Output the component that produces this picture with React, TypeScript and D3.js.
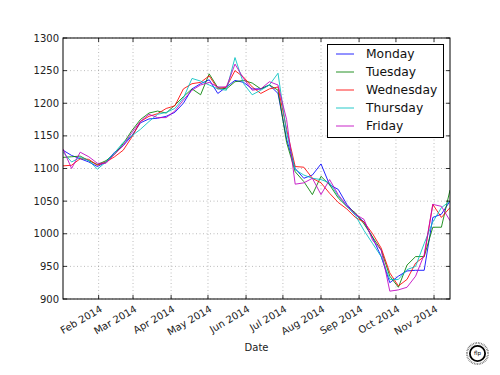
import React from "react";
import * as d3 from "d3";

const seriesNames = ["Monday", "Tuesday", "Wednesday", "Thursday", "Friday"];
const seriesColors = ["#0000ff", "#008000", "#ff0000", "#00bfbf", "#bf00bf"];

const startDate = "2014-01-03";

const monday = [1128, 1120, 1115, 1110, 1103, 1110, 1125, 1135, 1150, 1170, 1176, 1177, 1180, 1186, 1200, 1222, 1230, 1236, 1215, 1225, 1235, 1232, 1222, 1222, 1228, 1215, 1145, 1100, 1085, 1090, 1107, 1075, 1068, 1045, 1030, 1018, 994, 965, 925, 935, 943, 944, 944, 1025, 1030, 1050];
const tuesday = [1117, 1118, 1119, 1112, 1106, 1112, 1122, 1138, 1158, 1175, 1185, 1188, 1185, 1197, 1210, 1222, 1213, 1245, 1224, 1222, 1233, 1235, 1231, 1222, 1228, 1220, 1140, 1095, 1080, 1060, 1088, 1075, 1055, 1042, 1032, 1015, 995, 975, 935, 918, 952, 965, 965, 1010, 1010, 1067];
const wednesday = [1104, 1105, 1115, 1114, 1105, 1110, 1118, 1128, 1148, 1172, 1180, 1184, 1192, 1196, 1222, 1230, 1232, 1242, 1222, 1225, 1250, 1240, 1225, 1215, 1222, 1225, 1160, 1103, 1102, 1085, 1078, 1062, 1048, 1038, 1025, 1018, 1000, 978, 940, 920, 930, 955, 965, 1045, 1025, 1040];
const thursday = [1125, 1110, 1117, 1112, 1099, 1110, 1124, 1140, 1150, 1160, 1172, 1183, 1186, 1192, 1208, 1238, 1234, 1228, 1222, 1220, 1270, 1230, 1213, 1220, 1228, 1246, 1155, 1098, 1090, 1085, 1083, 1078, 1058, 1042, 1028, 1005, 985, 965, 930, 930, 945, 950, 985, 1018, 1040, 1050];
const friday = [1130, 1100, 1125, 1118, 1108, 1108, 1122, 1135, 1155, 1172, 1183, 1178, 1178, 1188, 1205, 1220, 1228, 1232, 1225, 1225, 1260, 1238, 1220, 1222, 1233, 1228, 1175, 1076, 1078, 1085, 1060, 1083, 1060, 1043, 1030, 1022, 990, 975, 912, 914, 918, 935, 968, 1045, 1042, 1020];

const seriesValues = [monday, tuesday, wednesday, thursday, friday];

const yTicks = [900, 950, 1000, 1050, 1100, 1150, 1200, 1250, 1300];
const xTickMonths = ["2014-02-01", "2014-03-01", "2014-04-01", "2014-05-01", "2014-06-01", "2014-07-01", "2014-08-01", "2014-09-01", "2014-10-01", "2014-11-01"];

const W = 500;
const H = 375;
const left = 63;
const right = 450;
const top = 38;
const bottom = 299;
const FONT = "DejaVu Sans, sans-serif";

function parse(s: string) {
  const [y, m, d] = s.split("-").map(Number);
  return new Date(y, m - 1, d);
}

export default function App() {
  const d0 = parse(startDate);
  const dates = monday.map((_, i) => new Date(d0.getFullYear(), d0.getMonth(), d0.getDate() + 7 * i));
  const x = d3.scaleTime().domain(d3.extent(dates) as [Date, Date]).range([left, right]);
  const y = d3.scaleLinear().domain([900, 1300]).range([bottom, top]);
  const line = d3
    .line<number>()
    .x((_, i) => x(dates[i]))
    .y((v) => y(v));
  const fmt = d3.timeFormat("%b %Y");
  const xTicks = xTickMonths.map(parse);

  return (
    <svg width={W} height={H} style={{ position: "absolute", left: 0, top: 0, background: "#fff" }} fontFamily={FONT}>
      <rect x={0} y={0} width={W} height={H} fill="#fff" />
      <defs>
        <clipPath id="clip">
          <rect x={left} y={top} width={right - left} height={bottom - top} />
        </clipPath>
      </defs>
      {/* grid */}
      {yTicks.map((t) => (
        <line key={"gy" + t} x1={left} x2={right} y1={y(t)} y2={y(t)} stroke="#000" strokeOpacity={0.45} strokeWidth={0.6} strokeDasharray="1,2.5" />
      ))}
      {xTicks.map((t, i) => (
        <line key={"gx" + i} x1={x(t)} x2={x(t)} y1={top} y2={bottom} stroke="#000" strokeOpacity={0.45} strokeWidth={0.6} strokeDasharray="1,2.5" />
      ))}
      {/* series */}
      <g clipPath="url(#clip)">
        {seriesValues.map((vals, k) => (
          <path key={seriesNames[k]} d={line(vals) || ""} fill="none" stroke={seriesColors[k]} strokeWidth={1} strokeOpacity={0.85} />
        ))}
      </g>
      {/* ticks */}
      {yTicks.map((t) => (
        <g key={"ty" + t}>
          <line x1={left} x2={left + 4} y1={y(t)} y2={y(t)} stroke="#000" strokeWidth={0.8} />
          <line x1={right} x2={right - 4} y1={y(t)} y2={y(t)} stroke="#000" strokeWidth={0.8} />
          <text x={left - 4} y={y(t)} dy="0.35em" textAnchor="end" fontSize={10} fill="#222">
            {t}
          </text>
        </g>
      ))}
      {xTicks.map((t, i) => (
        <g key={"tx" + i}>
          <line x1={x(t)} x2={x(t)} y1={bottom} y2={bottom - 4} stroke="#000" strokeWidth={0.8} />
          <line x1={x(t)} x2={x(t)} y1={top} y2={top + 4} stroke="#000" strokeWidth={0.8} />
          <text
            transform={`translate(${x(t) + 1},${bottom + 6}) rotate(-30)`}
            textAnchor="end"
            dy="0.7em"
            fontSize={10}
            fill="#222"
          >
            {fmt(t)}
          </text>
        </g>
      ))}
      {/* frame */}
      <rect x={left} y={top} width={right - left} height={bottom - top} fill="none" stroke="#000" strokeWidth={1} />
      <text x={(left + right) / 2} y={351} textAnchor="middle" fontSize={10} fill="#222">
        Date
      </text>
      {/* legend */}
      <g>
        <rect x={327.5} y={44.5} width={116} height={93} fill="#fff" stroke="#000" strokeWidth={1} />
        {seriesNames.map((n, k) => (
          <g key={"lg" + n}>
            <line x1={336} x2={354} y1={54 + 18 * k} y2={54 + 18 * k} stroke={seriesColors[k]} strokeWidth={1} strokeOpacity={0.85} />
            <text x={366} y={54 + 18 * k} dy="0.35em" fontSize={12.3} fill="#111">
              {n}
            </text>
          </g>
        ))}
      </g>
      {/* logo */}
      <g transform="translate(477.5,353.5)">
        <circle r={10.5} fill="none" stroke="#666" strokeWidth={2} strokeDasharray="0.7,0.9" />
        <circle r={7.6} fill="#fff" stroke="#000" strokeWidth={1.8} />
        <text textAnchor="middle" dy="0.35em" fontSize={5.5} fill="#000">
          flp
        </text>
      </g>
    </svg>
  );
}
